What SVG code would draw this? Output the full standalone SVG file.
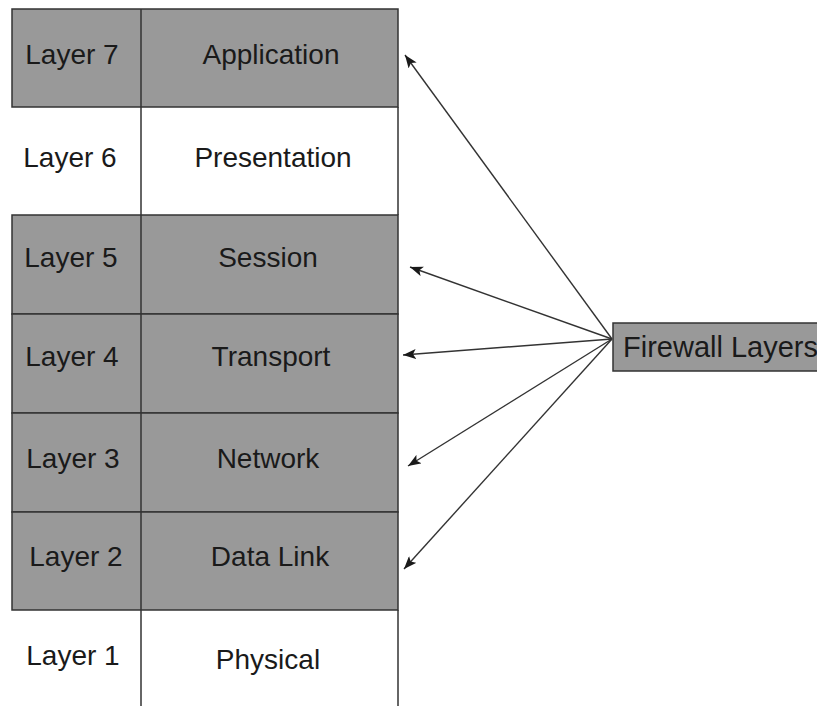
<svg xmlns="http://www.w3.org/2000/svg" width="817" height="706" viewBox="0 0 817 706">
<style>
.gray{fill:#999999;stroke:#333333;stroke-width:1.5}
.ln{stroke:#333333;stroke-width:1.5;fill:none}
.t{font-family:"Liberation Sans",Arial,sans-serif;font-size:28px;fill:#1a1a1a;text-anchor:middle}
.conn{stroke:#333333;stroke-width:1.4;fill:none;marker-end:url(#ah)}
</style>
<defs>
<marker id="ah" markerUnits="userSpaceOnUse" markerWidth="14" markerHeight="10" refX="13" refY="5" orient="auto">
<path d="M0,0 L13,5 L0,10 L3,5 Z" fill="#1a1a1a"/>
</marker>
</defs>
<rect width="817" height="706" fill="#ffffff"/>
<g id="layer7">
<rect class="gray" x="12" y="9" width="386" height="98"/>
<line class="ln" x1="141" y1="9" x2="141" y2="107"/>
<text class="t" x="72" y="64">Layer 7</text>
<text class="t" x="271" y="64">Application</text>
</g>
<g id="layer6">
<line class="ln" x1="141" y1="107" x2="141" y2="215"/>
<line class="ln" x1="398" y1="107" x2="398" y2="215"/>
<text class="t" x="70" y="167">Layer 6</text>
<text class="t" x="273" y="167">Presentation</text>
</g>
<g id="layer5">
<rect class="gray" x="12" y="215" width="386" height="99"/>
<line class="ln" x1="141" y1="215" x2="141" y2="314"/>
<text class="t" x="71" y="267">Layer 5</text>
<text class="t" x="268" y="267">Session</text>
</g>
<g id="layer4">
<rect class="gray" x="12" y="314" width="386" height="99"/>
<line class="ln" x1="141" y1="314" x2="141" y2="413"/>
<text class="t" x="72" y="366">Layer 4</text>
<text class="t" x="271" y="366">Transport</text>
</g>
<g id="layer3">
<rect class="gray" x="12" y="413" width="386" height="99"/>
<line class="ln" x1="141" y1="413" x2="141" y2="512"/>
<text class="t" x="73" y="468">Layer 3</text>
<text class="t" x="268" y="468">Network</text>
</g>
<g id="layer2">
<rect class="gray" x="12" y="512" width="386" height="98"/>
<line class="ln" x1="141" y1="512" x2="141" y2="610"/>
<text class="t" x="76" y="566">Layer 2</text>
<text class="t" x="270" y="566">Data Link</text>
</g>
<g id="layer1">
<line class="ln" x1="141" y1="610" x2="141" y2="706"/>
<line class="ln" x1="398" y1="610" x2="398" y2="706"/>
<text class="t" x="73" y="665">Layer 1</text>
<text class="t" x="268" y="669">Physical</text>
</g>
<g id="firewall">
<rect class="gray" x="613" y="323" width="230" height="48"/>
<text class="t" x="623" y="357" style="text-anchor:start;font-size:29px">Firewall Layers</text>
</g>
<g id="connectors">
<line class="conn" x1="612" y1="339" x2="405" y2="55"/>
<line class="conn" x1="612" y1="339" x2="410" y2="267"/>
<line class="conn" x1="612" y1="339" x2="403" y2="355"/>
<line class="conn" x1="612" y1="339" x2="408" y2="466"/>
<line class="conn" x1="612" y1="339" x2="404" y2="569"/>
</g>
</svg>
